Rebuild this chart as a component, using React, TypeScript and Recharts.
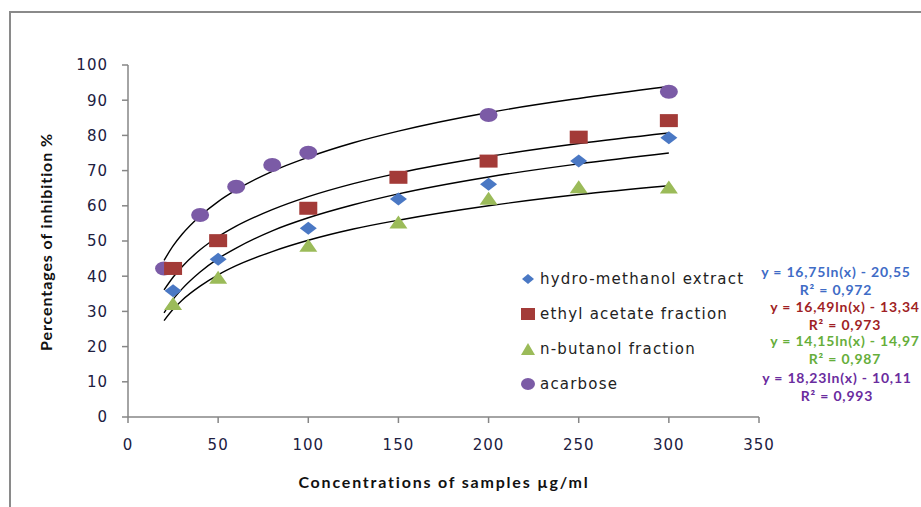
import { ComposedChart, Scatter, Line, XAxis, YAxis } from 'recharts';

const concentrations = [25, 50, 100, 150, 200, 250, 300];
const hydroMethanol = [35.9, 44.8, 53.6, 61.9, 66.1, 72.7, 79.3];
const ethylAcetate = [42.2, 50.1, 59.3, 68.1, 72.7, 79.5, 84.2];
const nButanol = [31.8, 39.3, 48.4, 55.0, 61.7, 65.0, 64.9];
const acarboseConc = [20, 40, 60, 80, 100, 200, 300];
const acarbose = [42.2, 57.4, 65.4, 71.6, 75.1, 85.8, 92.4];

// trend line readings (log fits), sampled along x
const trendX = [20, 25, 30, 40, 50, 60, 80, 100, 125, 150, 200, 250, 300];
const trendHydro = [29.6, 33.4, 36.4, 41.2, 45.0, 48.0, 52.9, 56.6, 60.3, 63.4, 68.2, 71.9, 75.0];
const trendEthyl = [36.1, 39.7, 42.7, 47.5, 51.2, 54.2, 58.9, 62.6, 66.3, 69.3, 74.0, 77.7, 80.7];
const trendButanol = [27.4, 30.6, 33.2, 37.2, 40.4, 43.0, 47.0, 50.2, 53.4, 55.9, 60.0, 63.2, 65.7];
const trendAcarbose = [44.5, 48.6, 51.9, 57.1, 61.2, 64.5, 69.8, 73.8, 77.9, 81.2, 86.5, 90.5, 93.9];

const xTicks = [0, 50, 100, 150, 200, 250, 300, 350];
const yTicks = [0, 10, 20, 30, 40, 50, 60, 70, 80, 90, 100];

const seriesNames = ['hydro-methanol extract', 'ethyl acetate fraction', 'n-butanol fraction', 'acarbose'];
const equations = ['y = 16,75ln(x) - 20,55', 'y = 16,49ln(x) - 13,34', 'y = 14,15ln(x) - 14,97', 'y = 18,23ln(x) - 10,11'];
const rSquared = ['R² = 0,972', 'R² = 0,973', 'R² = 0,987', 'R² = 0,993'];

const COLORS = {
  hydro: '#4a78c4',
  ethyl: '#a33b38',
  butanol: '#9bbb59',
  acarbose: '#7b5ba6',
};
const EQ_COLORS = ['#3f6cc6', '#a01f25', '#66ae3a', '#6a2c9e'];

const toPoints = (xs: number[], ys: number[]) => xs.map((x, i) => ({ x, y: ys[i] }));

const Diamond = (p: any) => (
  <path d={`M${p.cx},${p.cy - 6.5} L${p.cx + 8.5},${p.cy} L${p.cx},${p.cy + 6.5} L${p.cx - 8.5},${p.cy} Z`} fill={COLORS.hydro} />
);
const Square = (p: any) => <rect x={p.cx - 9} y={p.cy - 6.5} width={18} height={13} fill={COLORS.ethyl} />;
const Triangle = (p: any) => (
  <path d={`M${p.cx},${p.cy - 8} L${p.cx + 9},${p.cy + 5} L${p.cx - 9},${p.cy + 5} Z`} fill={COLORS.butanol} />
);
const Ellipse = (p: any) => <ellipse cx={p.cx} cy={p.cy} rx={9} ry={7} fill={COLORS.acarbose} />;

const legendIcon = (i: number) => {
  if (i === 0) return <path d="M7,1 L13,6 L7,11 L1,6 Z" fill={COLORS.hydro} />;
  if (i === 1) return <rect x={0} y={0} width={14} height={12} fill={COLORS.ethyl} />;
  if (i === 2) return <path d="M7,0 L14,12 L0,12 Z" fill={COLORS.butanol} />;
  return <ellipse cx={7} cy={6} rx={7} ry={6} fill={COLORS.acarbose} />;
};

const eqBlocks = [
  { center: 836, top: 263 },
  { center: 845, top: 298 },
  { center: 845, top: 332 },
  { center: 837, top: 369 },
];

const axisGray = '#868686';
const tickStyle = { fontSize: 15, fill: '#20203f', fontFamily: 'DejaVu Sans', letterSpacing: 1 };

export default function App() {
  return (
    <div style={{ position: 'absolute', left: 0, top: 0, width: 921, height: 507, overflow: 'hidden', background: '#fff' }}>
      <div style={{ position: 'absolute', left: 9, top: 11, width: 1000, height: 600, borderTop: '2px solid #8a8a8a', borderLeft: '2px solid #8a8a8a' }} />
      <ComposedChart width={921} height={507} margin={{ top: 65, right: 162, left: 78, bottom: 60 }}>
        <XAxis
          type="number"
          dataKey="x"
          domain={[0, 350]}
          ticks={xTicks}
          interval={0}
          tick={tickStyle}
          tickSize={6}
          tickMargin={16}
          height={30}
          axisLine={{ stroke: axisGray, strokeWidth: 1.5 }}
          tickLine={{ stroke: axisGray, strokeWidth: 1.5 }}
        />
        <YAxis
          type="number"
          domain={[0, 100]}
          ticks={yTicks}
          interval={0}
          tick={tickStyle}
          tickSize={6}
          tickMargin={14}
          width={50}
          axisLine={{ stroke: axisGray, strokeWidth: 1.5 }}
          tickLine={{ stroke: axisGray, strokeWidth: 1.5 }}
        />
        <Line data={toPoints(trendX, trendAcarbose)} dataKey="y" type="monotone" dot={false} stroke="#000" strokeWidth={1.4} isAnimationActive={false} />
        <Line data={toPoints(trendX, trendEthyl)} dataKey="y" type="monotone" dot={false} stroke="#000" strokeWidth={1.4} isAnimationActive={false} />
        <Line data={toPoints(trendX, trendHydro)} dataKey="y" type="monotone" dot={false} stroke="#000" strokeWidth={1.4} isAnimationActive={false} />
        <Line data={toPoints(trendX, trendButanol)} dataKey="y" type="monotone" dot={false} stroke="#000" strokeWidth={1.4} isAnimationActive={false} />
        <Scatter name={seriesNames[3]} data={toPoints(acarboseConc, acarbose)} dataKey="y" shape={Ellipse} isAnimationActive={false} />
        <Scatter name={seriesNames[0]} data={toPoints(concentrations, hydroMethanol)} dataKey="y" shape={Diamond} isAnimationActive={false} />
        <Scatter name={seriesNames[1]} data={toPoints(concentrations, ethylAcetate)} dataKey="y" shape={Square} isAnimationActive={false} />
        <Scatter name={seriesNames[2]} data={toPoints(concentrations, nButanol)} dataKey="y" shape={Triangle} isAnimationActive={false} />
      </ComposedChart>

      <div style={{ position: 'absolute', left: 521, top: 261 }}>
        {seriesNames.map((name, i) => (
          <div key={name} style={{ display: 'flex', alignItems: 'center', height: 35 }}>
            <svg width={14} height={12} style={{ marginRight: 5 }}>
              {legendIcon(i)}
            </svg>
            <span style={{ fontSize: 15, letterSpacing: 1.2, color: '#222', fontFamily: 'DejaVu Sans', whiteSpace: 'nowrap' }}>{name}</span>
          </div>
        ))}
      </div>

      <div
        style={{
          position: 'absolute', left: 244, top: 472, width: 400, textAlign: 'center',
          fontFamily: 'Lato', fontWeight: 700, fontSize: 16, lineHeight: '20px', letterSpacing: 1.8, color: '#111',
        }}
      >
        Concentrations of samples µg/ml
      </div>
      <div
        style={{
          position: 'absolute', left: -104, top: 232, width: 300, height: 20, textAlign: 'center',
          fontFamily: 'Lato', fontWeight: 700, fontSize: 16, lineHeight: '20px', letterSpacing: 0.9, color: '#111',
          transform: 'rotate(-90deg)',
        }}
      >
        Percentages of inhibition %
      </div>

      {eqBlocks.map((b, i) => (
        <div
          key={i}
          style={{
            position: 'absolute', left: b.center - 100, top: b.top, width: 200, textAlign: 'center',
            fontFamily: 'Lato', fontWeight: 700, fontSize: 14, lineHeight: '18px', letterSpacing: 0.8,
            color: EQ_COLORS[i], whiteSpace: 'nowrap',
          }}
        >
          <div>{equations[i]}</div>
          <div>{rSquared[i]}</div>
        </div>
      ))}
    </div>
  );
}
